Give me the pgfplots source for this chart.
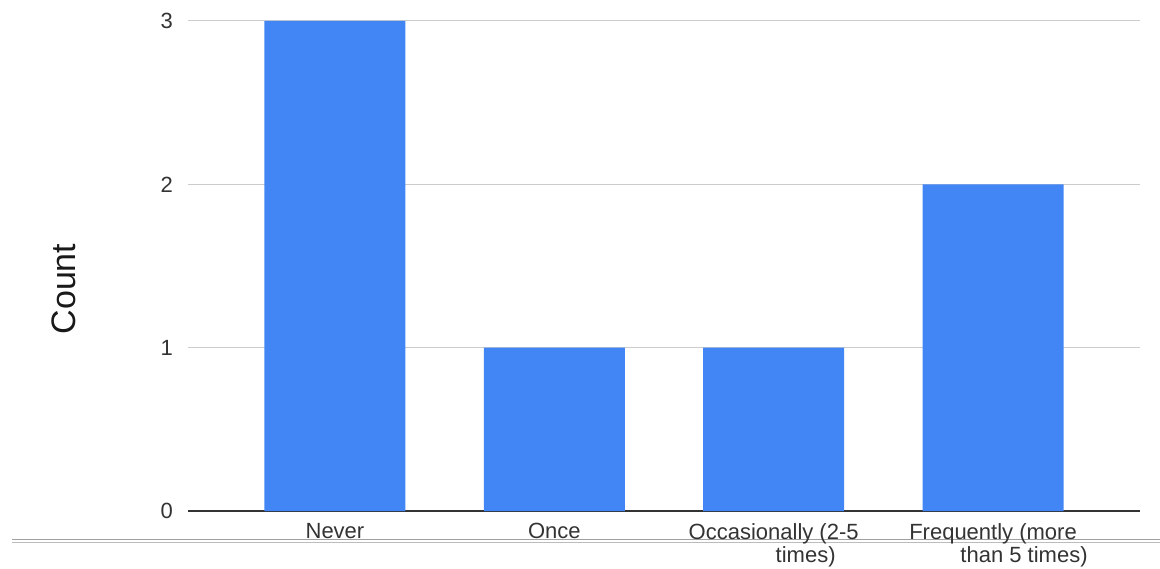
\documentclass[border=0pt]{standalone}
\usepackage{pgfplots}
\pgfplotsset{compat=1.18}
\usepackage{fontspec}
\setmainfont{Liberation Sans}
\definecolor{barblue}{HTML}{4285F4}
\definecolor{gridgray}{HTML}{CCCCCC}
\definecolor{txt}{HTML}{333333}
\definecolor{artline}{HTML}{A0A0A0}
\begin{document}
\begin{tikzpicture}
\useasboundingbox (0,0) rectangle (1160pt,568pt);
\draw[artline, line width=1pt] (12pt,28pt) -- (1160pt,28pt);
\draw[artline!70, line width=1pt] (12pt,25pt) -- (1160pt,25pt);
\begin{axis}[
  at={(188pt,57pt)}, anchor=south west,
  width=952pt, height=490pt, scale only axis,
  xmin=-0.67, xmax=3.67, ymin=0, ymax=3,
  ybar, bar width=141pt, bar shift=0pt,
  axis line style={draw=none},
  tick style={draw=none},
  major tick length=0pt,
  ytick={1,2,3},
  ymajorgrids,
  grid style={gridgray, line width=1pt},
  extra y ticks={0},
  extra y tick labels={0},
  extra y tick style={grid style={black!80, line width=1.2pt}},
  /pgf/number format/assume math mode=true,
  yticklabel style={font=\fontsize{22}{24}\selectfont, text=txt, inner sep=0pt, xshift=-15pt},
  xtick={0,1,2,3},
  xticklabels={Never, Once, {Occasionally (2-5\\\hspace*{64pt}times)}, {Frequently (more\\\hspace*{62pt}than 5 times)}},
  xticklabel style={align=center, font=\fontsize{22}{23.5}\selectfont, text=txt, inner sep=0pt, yshift=-12pt},
  ylabel={Count},
  ylabel style={at={(axis description cs:-0.130,0.453)}, anchor=center, font=\fontsize{34}{40}\selectfont, text=black!90},
]
\addplot[fill=barblue, draw=none] coordinates {(0,3) (1,1) (2,1) (3,2)};
\end{axis}
\end{tikzpicture}
\end{document}
